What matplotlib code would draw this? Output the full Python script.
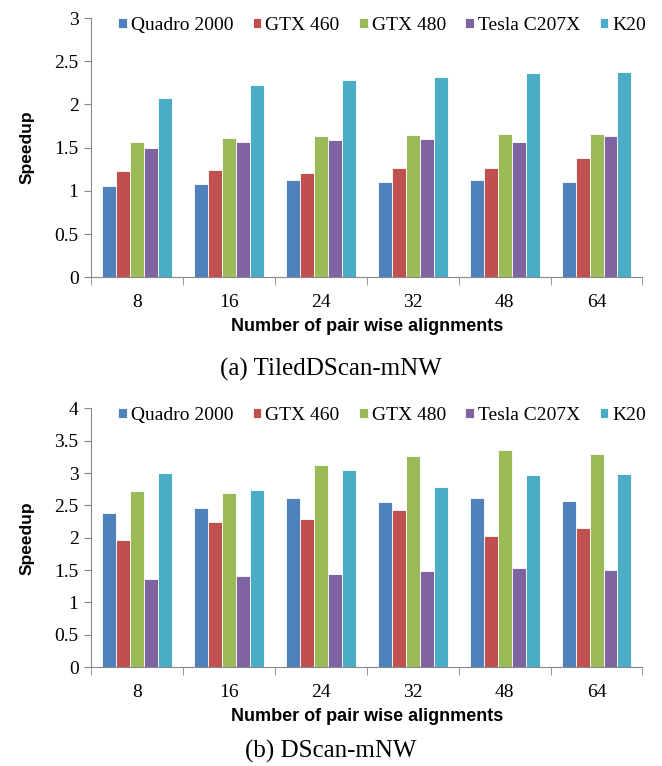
import numpy as np
import matplotlib
matplotlib.use("Agg")
import matplotlib.pyplot as plt

groups = ["8", "16", "24", "32", "48", "64"]
gpus = ["Quadro 2000", "GTX 460", "GTX 480", "Tesla C207X", "K20"]
colors = ["#4F81BD", "#C0504D", "#9BBB59", "#8064A2", "#4BACC6"]

# (a) TiledDScan-mNW
tiled_quadro = [1.06, 1.08, 1.12, 1.10, 1.12, 1.10]
tiled_gtx460 = [1.23, 1.24, 1.21, 1.26, 1.27, 1.38]
tiled_gtx480 = [1.56, 1.61, 1.64, 1.65, 1.66, 1.66]
tiled_tesla = [1.50, 1.57, 1.59, 1.60, 1.57, 1.63]
tiled_k20 = [2.08, 2.22, 2.28, 2.32, 2.36, 2.38]

# (b) DScan-mNW
dscan_quadro = [2.38, 2.46, 2.62, 2.55, 2.62, 2.57]
dscan_gtx460 = [1.96, 2.24, 2.29, 2.43, 2.02, 2.15]
dscan_gtx480 = [2.72, 2.69, 3.12, 3.26, 3.36, 3.30]
dscan_tesla = [1.36, 1.41, 1.44, 1.49, 1.53, 1.50]
dscan_k20 = [3.00, 2.73, 3.04, 2.78, 2.97, 2.99]

serif = "Liberation Serif"
sans = "Liberation Sans"


def draw(ax, series, ymax, caption, cap_y):
    x = np.arange(len(groups))
    w = 0.152
    for i, vals in enumerate(series):
        ax.bar(x + (i - 2) * w, vals, w, color=colors[i], label=gpus[i],
               edgecolor="white", linewidth=0.6)
    ax.set_xlim(-0.5, len(groups) - 0.5)
    ax.set_ylim(0, ymax)
    yt = np.arange(0, ymax + 0.01, 0.5)
    ax.set_yticks(yt)
    ax.set_yticklabels(["%g" % v for v in yt], fontfamily=serif, fontsize=14)
    ax.set_xticks(x)
    ax.set_xticklabels(groups, fontfamily=serif, fontsize=14)
    ax.tick_params(axis="x", length=0, pad=12)
    ax.set_xticks(np.arange(-0.5, len(groups)), minor=True)
    ax.tick_params(axis="x", which="minor", length=6, direction="out", color="#888888")
    ax.tick_params(axis="y", length=5, direction="out", color="#888888", pad=4)
    for s in ["top", "right"]:
        ax.spines[s].set_visible(False)
    ax.spines["left"].set_color("#888888")
    ax.spines["bottom"].set_color("#888888")
    ax.set_ylabel("Speedup", fontfamily=sans, fontweight="bold", fontsize=12.5, labelpad=14)
    ax.set_xlabel("Number of pair wise alignments", fontfamily=sans,
                  fontweight="bold", fontsize=13, labelpad=5)
    ax.legend(loc="upper left", bbox_to_anchor=(0.035, 1.035), ncol=5, frameon=False,
              prop={"family": serif, "size": 14}, handlelength=0.45, handleheight=0.45,
              handletextpad=0.2, columnspacing=1.0, borderaxespad=0)
    ax.figure.text(0.5, cap_y, caption, ha="center", va="center",
                   fontfamily=serif, fontsize=18)


fig = plt.figure(figsize=(6.62, 7.66), dpi=100)
ax1 = fig.add_axes([0.1375, 0.638, 0.833, 0.3385])
ax2 = fig.add_axes([0.1375, 0.129, 0.833, 0.338])

draw(ax1, [tiled_quadro, tiled_gtx460, tiled_gtx480, tiled_tesla, tiled_k20], 3,
     "(a) TiledDScan-mNW", 1 - 369 / 766)
draw(ax2, [dscan_quadro, dscan_gtx460, dscan_gtx480, dscan_tesla, dscan_k20], 4,
     "(b) DScan-mNW", 1 - 751 / 766)

fig.savefig("out.png", dpi=100)
